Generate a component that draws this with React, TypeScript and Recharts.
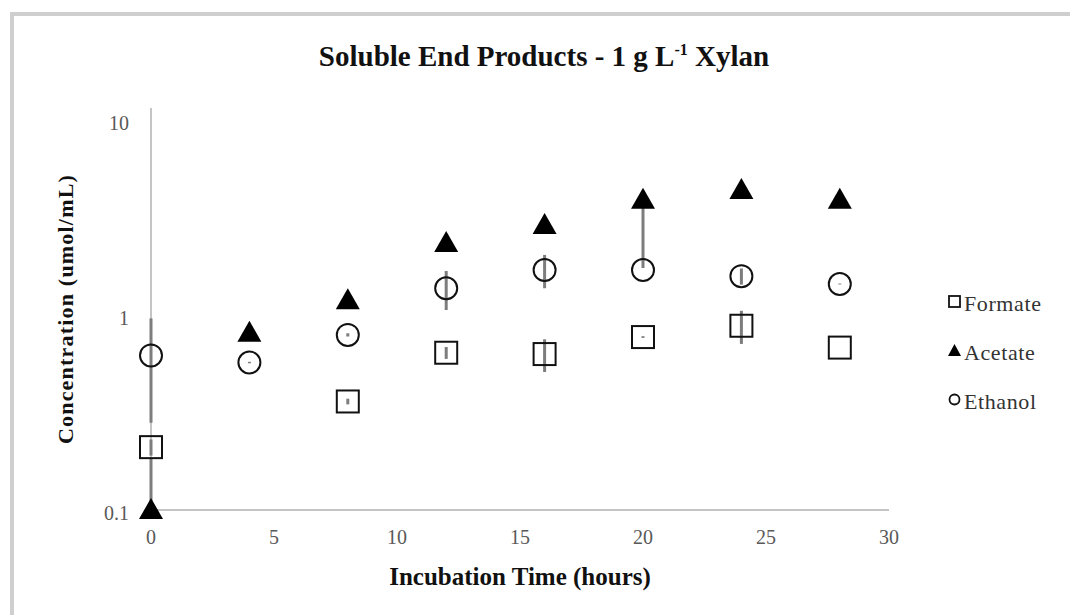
import React from 'react';
import {
  ScatterChart,
  Scatter,
  XAxis,
  YAxis,
  ErrorBar,
  ReferenceLine,
  Label,
} from 'recharts';

// sampling times (hours)
const hours = [0, 4, 8, 12, 16, 20, 24, 28];

// concentrations (umol/mL), null = not measured
const formate = [0.21, null, 0.36, 0.64, 0.63, 0.77, 0.88, 0.68];
const acetate = [0.1, 0.81, 1.19, 2.34, 2.89, 3.89, 4.37, 3.89];
const ethanol = [0.62, 0.57, 0.79, 1.37, 1.7, 1.7, 1.58, 1.44];

// error bars as [minus, plus]
const formateErr = [[0.02, 0.02], null, [0.012, 0.012], [0.045, 0.045], [0.12, 0.12], [0.008, 0.008], [0.17, 0.17], [0, 0]];
const acetateErr = [[0, 0.085], [0, 0], [0, 0], [0, 0], [0, 0], [2.15, 0], [0, 0], [0, 0]];
const ethanolErr = [[0.34, 0.34], [0.005, 0.005], [0.015, 0.015], [0.31, 0.31], [0.33, 0.33], [0, 0], [0.15, 0.15], [0.008, 0.008]];

const xTicks = [0, 5, 10, 15, 20, 25, 30];
const yTicks = [0.1, 1, 10];

const toPoints = (vals: (number | null)[], errs: (number[] | null)[]) =>
  hours
    .map((h, i) => ({ x: h, y: vals[i], err: errs[i] }))
    .filter((p) => p.y != null);

const FONT = "'Liberation Serif', 'Times New Roman', serif";
const AXIS_GREY = '#c4c4c4';
const TICK_GREY = '#595959';
const ERR_GREY = '#7d7d7d';

const SquareMark = ({ cx, cy }: any) => (
  <rect x={cx - 11} y={cy - 11} width={22} height={22} fill="none" stroke="#111" strokeWidth={2} />
);
const TriangleMark = ({ cx, cy }: any) => (
  <polygon points={`${cx},${cy - 12} ${cx + 12},${cy + 9} ${cx - 12},${cy + 9}`} fill="#000" />
);
const CircleMark = ({ cx, cy }: any) => (
  <circle cx={cx} cy={cy} r={11} fill="none" stroke="#111" strokeWidth={2} />
);

const legendItems = [
  { name: 'Formate', kind: 'square' },
  { name: 'Acetate', kind: 'triangle' },
  { name: 'Ethanol', kind: 'circle' },
];

const LegendIcon = ({ kind }: { kind: string }) => (
  <svg width={13} height={13} style={{ marginRight: 3, marginBottom: 5 }}>
    {kind === 'square' && <rect x={1} y={1} width={11} height={11} fill="none" stroke="#111" strokeWidth={1.8} />}
    {kind === 'triangle' && <polygon points="6.5,0 13,12 0,12" fill="#000" />}
    {kind === 'circle' && <circle cx={6.5} cy={6.5} r={5} fill="none" stroke="#111" strokeWidth={1.8} />}
  </svg>
);

const ChartLegend = () => (
  <div
    style={{
      position: 'absolute',
      left: 948,
      top: 279,
      fontFamily: FONT,
      fontSize: 22,
      letterSpacing: 0.6,
      color: '#333',
    }}
  >
    {legendItems.map((it) => (
      <div key={it.name} style={{ height: 49, display: 'flex', alignItems: 'center' }}>
        <LegendIcon kind={it.kind} />
        <span>{it.name}</span>
      </div>
    ))}
  </div>
);

export default function App() {
  return (
    <div style={{ position: 'absolute', left: 0, top: 0, width: 1070, height: 615, background: '#fff', overflow: 'hidden' }}>
      {/* chart area frame */}
      <div
        style={{
          position: 'absolute',
          left: 10,
          top: 12,
          width: 1100,
          height: 700,
          borderLeft: '4px solid #cfcfcf',
          borderTop: '4px solid #cfcfcf',
        }}
      />
      <div
        style={{
          position: 'absolute',
          left: 9,
          top: 40,
          width: 1070,
          textAlign: 'center',
          fontFamily: FONT,
          fontWeight: 'bold',
          fontSize: 29,
          color: '#111',
        }}
      >
        Soluble End Products - 1 g L<sup style={{ fontSize: 16 }}>-1</sup> Xylan
      </div>
      <ScatterChart
        width={1070}
        height={615}
        margin={{ top: 108, right: 181, bottom: 30, left: 55 }}
        style={{ position: 'absolute', left: 0, top: 0 }}
      >
        <XAxis
          type="number"
          dataKey="x"
          domain={[0, 30]}
          ticks={xTicks}
          height={75}
          tickLine={false}
          tickMargin={14}
          axisLine={{ stroke: AXIS_GREY, strokeWidth: 2 }}
          tick={{ fill: TICK_GREY, fontSize: 20, fontFamily: FONT }}
        >
          <Label
            value="Incubation Time (hours)"
            position="insideBottom"
            offset={0}
            style={{ fontFamily: FONT, fontWeight: 'bold', fontSize: 25, fill: '#111' }}
          />
        </XAxis>
        <YAxis
          type="number"
          dataKey="y"
          scale="log"
          domain={[0.1, 11.5]}
          ticks={yTicks}
          width={96}
          tickLine={false}
          tickMargin={16}
          axisLine={false}
          tick={{ fill: TICK_GREY, fontSize: 20, fontFamily: FONT, dy: 3 }}
        >
          <Label
            value="Concentration (umol/mL)"
            angle={-90}
            position="insideLeft"
            offset={10}
            style={{ fontFamily: FONT, fontWeight: 'bold', fontSize: 22, fill: '#111', textAnchor: 'middle', letterSpacing: 1.2 }}
          />
        </YAxis>
        <ReferenceLine x={0} stroke={AXIS_GREY} strokeWidth={2} />
        <Scatter name="Formate" data={toPoints(formate, formateErr)} shape={<SquareMark />} isAnimationActive={false}>
          <ErrorBar dataKey="err" direction="y" width={0} stroke={ERR_GREY} strokeWidth={3} />
        </Scatter>
        <Scatter name="Acetate" data={toPoints(acetate, acetateErr)} shape={<TriangleMark />} isAnimationActive={false}>
          <ErrorBar dataKey="err" direction="y" width={0} stroke={ERR_GREY} strokeWidth={3} />
        </Scatter>
        <Scatter name="Ethanol" data={toPoints(ethanol, ethanolErr)} shape={<CircleMark />} isAnimationActive={false}>
          <ErrorBar dataKey="err" direction="y" width={0} stroke={ERR_GREY} strokeWidth={3} />
        </Scatter>
      </ScatterChart>
      <ChartLegend />
    </div>
  );
}
